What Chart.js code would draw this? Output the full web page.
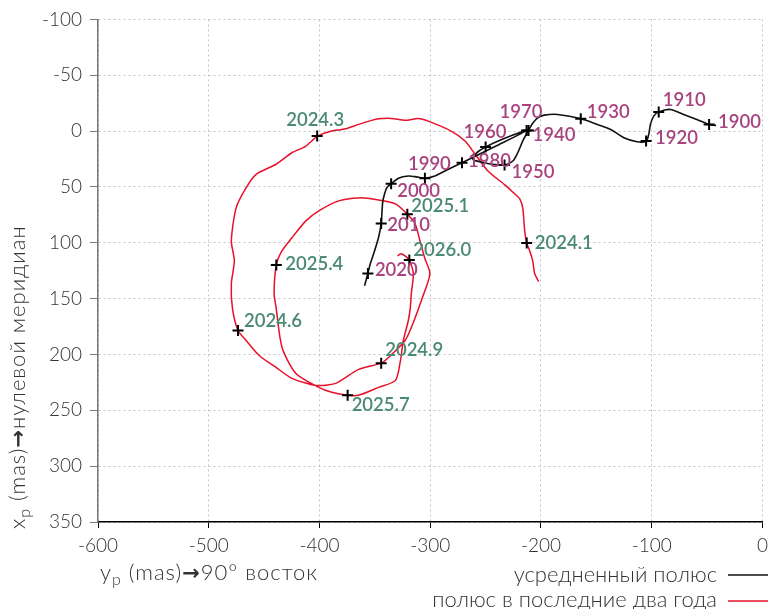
<!DOCTYPE html>
<html>
<head>
<meta charset="utf-8">
<script src="https://cdn.jsdelivr.net/npm/chart.js@4.4.1/dist/chart.umd.min.js"></script>
<style>
    html, body { margin: 0; padding: 0; background: #fff; }
    #wrap { width: 774px; height: 609px; position: relative; }
</style>
</head>
<body>
<div id="wrap"><canvas id="chart"></canvas></div>
<script>
// Mean pole track, 1900 -> 2020 (y_p, x_p in mas)
const meanX = [-41.9, -48.2, -59.3, -71.2, -83.2, -93.7, -98.2, -101.2, -102.7, -105.1, -113.2, -125.1,
    -137.1, -149.1, -164.1, -185, -197, -203, -207.5, -211.3, -216.5, -221, -225.4, -232.9, -244.9,
    -255, -261.4, -258, -250, -234.4, -213, -242, -271.3, -286.8, -295.8, -304.8, -313.7, -319.8,
    -328.7, -335.3, -339.2, -341.3, -342.8, -343.7, -344.3, -346.7, -351.2, -354.2, -356.3, -359.3];
const meanY = [-5.1, -6.0, -10.4, -14.9, -19.4, -17.2, -13.4, -6, 2.9, 8.9, 9.6, 6,
    -1.5, -6, -11, -14.9, -14.3, -11.9, -7, -0.6, 8.9, 19.4, 26.8, 30.4, 29.7,
    27.5, 25.3, 19.5, 14.3, 7.1, -0.5, 14, 28.3, 35.7, 40.2, 42.2, 40.8, 40.2,
    42.2, 47.1, 50.6, 56.5, 62.5, 74.4, 82.8, 95.3, 110.1, 119, 127.4, 138.4];

// Decade marks on the mean pole track
const yearLabels = ['1900', '1910', '1920', '1930', '1940', '1950', '1960', '1970', '1980', '1990', '2000', '2010', '2020'];
const yearX = [-48.2, -93.7, -105.1, -164.1, -211.3, -232.9, -250, -213, -271.3, -304.8, -335.3, -344.3, -356.3];
const yearY = [-6.0, -17.2, 8.9, -11, -0.6, 30.4, 14.3, -0.5, 28.3, 42.2, 47.1, 82.8, 127.4];

// Pole over the last two years
const recentX = [-202.1, -205.7, -206.6, -207.5, -210.2, -212.9, -214.7, -216.5, -219.2, -224.6, -232.6,
    -247.9, -259.6, -268.6, -281.1, -301.8, -310.8, -322.5, -335, -346.7, -353, -364.7, -376.4, -388.9,
    -397.9, -402.1, -412.3, -424.9, -439.2, -457.2, -466.2, -475.2, -479.6, -476.9, -479.6, -478.7,
    -473.6, -466.2, -454.5, -439.2, -424.9, -403.3, -385.3, -364.7, -344.3, -337.7, -322.7, -317.1,
    -308.1, -300.3, -304.8, -309.3, -313.7, -320.7, -331.4, -346.7, -364.7, -382.6, -400.6, -412.3,
    -424.9, -433.8, -439, -441, -439.2, -433.8, -421.3, -400.6, -388.9, -374.6, -364.7, -346.7,
    -331.4, -326.9, -324.3, -319.8, -318, -317.1, -315.3, -318.9, -326, -329.6];
const recentY = [134.8, 127.7, 122.3, 116.1, 107.1, 100.3, 89.3, 68.8, 60.7, 55.4, 48.2,
    35.7, 20.5, 8.9, 0, -8.9, -11.3, -9.6, -11.3, -11, -9.6, -6, -2.1, 0,
    2.7, 4.5, 13.4, 19.4, 29.7, 38.7, 50.6, 68.5, 98.2, 116.1, 136.6, 158,
    178.6, 187.5, 200.9, 211.6, 221.4, 227.7, 225.9, 213.4, 207.8, 202.7, 187.5, 175.9,
    151.8, 127.7, 114.3, 98.2, 83, 74.4, 65.2, 61.6, 59.8, 62.5, 71.4, 80.4,
    95.5, 107.1, 119.9, 145.5, 158, 193.8, 217, 229.5, 233.9, 236.6, 236.6, 229.5,
    223.2, 205.4, 187.5, 169.6, 158, 145.5, 127.7, 115.4, 109.8, 111.6];

// Date marks on the recent track
const dateLabels = ['2024.1', '2024.3', '2024.6', '2024.9', '2025.1', '2025.4', '2025.7', '2026.0'];
const dateX = [-212.9, -402.1, -473.6, -344.3, -320.7, -439, -374.6, -318.9];
const dateY = [100.3, 4.5, 178.6, 207.8, 74.4, 119.9, 236.6, 115.4];

// pixel offsets of the mark labels (left edge, vertical middle)
const yearOffsets = [[9, -2], [4, -12], [9, -3], [6, -7], [4, 5], [7, 7], [-22, -15], [-27, -18],
    [6, -2], [-17, -14], [6, 7], [6, 1], [7, -3]];
const dateOffsets = [[8, 0], [-31, -16], [6, -10], [4, -13], [4, -8], [9, -1], [4, 10], [4, -10]];

const FONT = 'Lato';
const colors = {
    mean: '#111111',
    recent: '#e8102a',
    year: '#a8437f',
    date: '#4b8a72',
    tick: '#333333',
    grid: '#c4c4c4'
};

const toPoints = (xs, ys) => xs.map((x, i) => ({ x: x, y: ys[i] }));

// Labels next to the cross marks
const markLabels = {
    id: 'markLabels',
    afterDatasetsDraw(chart) {
        const ctx = chart.ctx;
        ctx.save();
        ctx.font = '600 18.5px ' + FONT;
        ctx.textBaseline = 'middle';
        ctx.textAlign = 'left';
        [[0, yearLabels, yearOffsets, colors.year], [1, dateLabels, dateOffsets, colors.date]].forEach(([idx, labels, offs, col]) => {
            const meta = chart.getDatasetMeta(idx);
            ctx.fillStyle = col;
            meta.data.forEach((pt, i) => {
                ctx.fillText(labels[i], pt.x + offs[i][0], pt.y + offs[i][1]);
            });
        });
        ctx.restore();
    }
};

// Draw a run of text pieces, some of them subscripts
function drawRuns(ctx, runs, x, y) {
    runs.forEach(r => {
        ctx.font = (r.weight || '300') + ' ' + r.size + 'px ' + (r.family || FONT);
        ctx.fillText(r.t, x, y + (r.dy || 0));
        x += ctx.measureText(r.t).width;
    });
    return x;
}

// Axis titles and legend
const decorations = {
    id: 'decorations',
    afterDraw(chart) {
        const ctx = chart.ctx;
        ctx.save();
        ctx.fillStyle = colors.tick;
        ctx.textBaseline = 'alphabetic';
        ctx.textAlign = 'left';
        ctx.letterSpacing = '1px';

        const arrow = { t: '\u2192', size: 21, weight: 'bold', family: 'DejaVu Sans' };

        // x title
        drawRuns(ctx, [
            { t: 'y', size: 22 }, { t: 'p', size: 16, dy: 5 }, { t: ' (mas)', size: 22 },
            arrow, { t: '90° восток', size: 22 }
        ], 100, 580);

        // y title (rotated)
        ctx.save();
        ctx.translate(25, 529);
        ctx.rotate(-Math.PI / 2);
        drawRuns(ctx, [
            { t: 'x', size: 22 }, { t: 'p', size: 16, dy: 5 }, { t: ' (mas)', size: 22 },
            arrow, { t: 'нулевой меридиан', size: 22 }
        ], 0, 0);
        ctx.restore();

        // legend
        ctx.letterSpacing = '0px';
        ctx.font = '300 22px ' + FONT;
        ctx.textAlign = 'right';
        ctx.fillText('усредненный полюс', 717, 582);
        ctx.fillText('полюс в последние два года', 717, 607);
        ctx.lineWidth = 1.5;
        ctx.strokeStyle = colors.mean;
        ctx.beginPath(); ctx.moveTo(728, 575); ctx.lineTo(768, 575); ctx.stroke();
        ctx.strokeStyle = colors.recent;
        ctx.beginPath(); ctx.moveTo(728, 601); ctx.lineTo(768, 601); ctx.stroke();
        ctx.restore();
    }
};

new Chart(document.getElementById('chart'), {
    type: 'scatter',
    data: {
        datasets: [
            {
                label: 'years',
                data: toPoints(yearX, yearY),
                pointStyle: 'cross',
                pointRadius: 5.5,
                pointBorderWidth: 2,
                pointBorderColor: '#000',
                showLine: false
            },
            {
                label: 'dates',
                data: toPoints(dateX, dateY),
                pointStyle: 'cross',
                pointRadius: 5.5,
                pointBorderWidth: 2,
                pointBorderColor: '#000',
                showLine: false
            },
            {
                label: 'усредненный полюс',
                data: toPoints(meanX, meanY),
                showLine: true,
                borderColor: colors.mean,
                borderWidth: 1.6,
                pointRadius: 0,
                tension: 0.3
            },
            {
                label: 'полюс в последние два года',
                data: toPoints(recentX, recentY),
                showLine: true,
                borderColor: colors.recent,
                borderWidth: 1.5,
                pointRadius: 0,
                tension: 0.25
            }
        ]
    },
    options: {
        responsive: true,
        maintainAspectRatio: false,
        animation: false,
        layout: { padding: { top: 18, right: 8, left: 0, bottom: 0 } },
        plugins: {
            legend: { display: false },
            tooltip: { enabled: false }
        },
        scales: {
            x: {
                type: 'linear',
                min: -600,
                max: 0,
                afterFit: (axis) => { axis.height = 87; },
                ticks: {
                    stepSize: 100,
                    color: colors.tick,
                    padding: 6,
                    font: { family: FONT, size: 19, weight: '300' }
                },
                grid: {
                    color: colors.grid,
                    tickColor: '#000',
                    tickLength: 6,
                    lineWidth: 1
                },
                border: { color: '#000', width: 1.5, dash: [2, 3] }
            },
            y: {
                type: 'linear',
                min: -100,
                max: 350,
                reverse: true,
                afterFit: (axis) => { axis.width = 98; },
                ticks: {
                    stepSize: 50,
                    color: colors.tick,
                    padding: 8,
                    font: { family: FONT, size: 19, weight: '300' }
                },
                grid: {
                    color: colors.grid,
                    tickColor: '#777',
                    tickLength: 8,
                    lineWidth: 1
                },
                border: { color: '#777', width: 1.5, dash: [2, 3] }
            }
        }
    },
    plugins: [markLabels, decorations]
});
</script>
</body>
</html>
